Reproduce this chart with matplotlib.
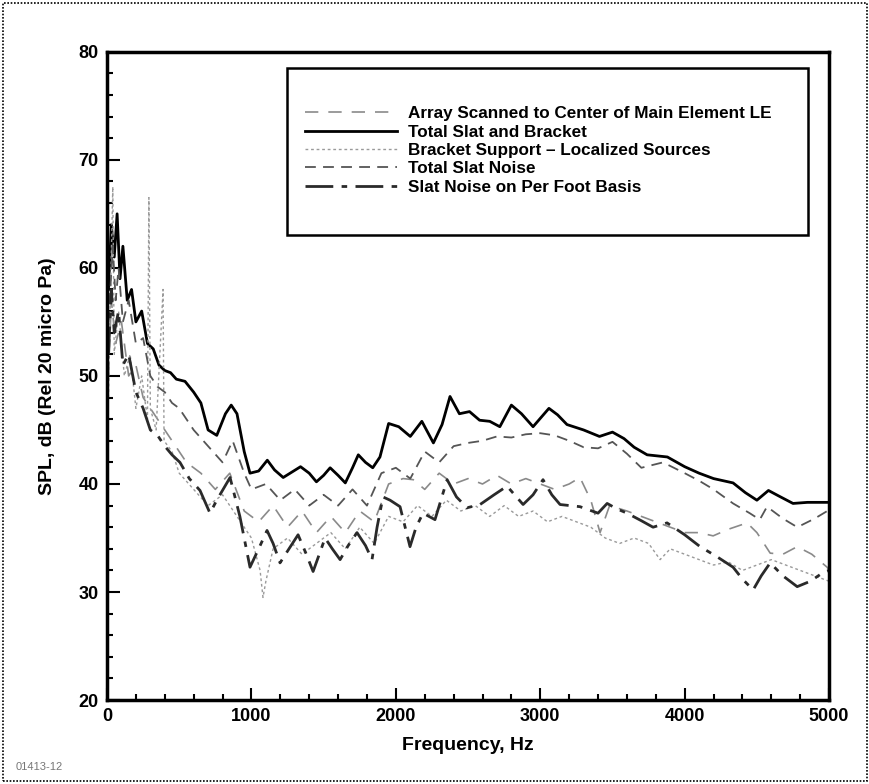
import numpy as np
import matplotlib
matplotlib.use('Agg')
import matplotlib.pyplot as plt
from matplotlib.patches import Rectangle

plt.rcParams['font.family'] = ['Liberation Sans', 'DejaVu Sans']

#### Data (Hz, dB)

# Total Slat and Bracket (solid, top curve)
f_total = [10, 30, 50, 70, 90, 110, 140, 170, 200, 240, 280, 320, 360, 400, 440, 480, 540, 600, 650,
           700, 760, 820, 860, 900, 950, 990, 1050, 1110, 1160, 1220, 1280, 1340, 1400, 1450, 1500,
           1545, 1600, 1650, 1700, 1740, 1790, 1840, 1890, 1950, 2020, 2100, 2180, 2260, 2320, 2375,
           2440, 2510, 2580, 2650, 2720, 2800, 2870, 2950, 3060, 3120, 3185, 3300, 3410, 3500, 3580,
           3650, 3740, 3880, 4000, 4100, 4200, 4335, 4420, 4500, 4580, 4650, 4750, 4850, 4950, 5000]
spl_total = [58, 64, 61, 65, 59, 62, 57, 58, 55, 56, 53, 52.5, 51, 50.5, 50.3, 49.7, 49.5, 48.5, 47.5,
             45.0, 44.5, 46.5, 47.3, 46.5, 43.0, 41.0, 41.2, 42.2, 41.3, 40.6, 41.1, 41.6, 41.0, 40.2, 40.8,
             41.5, 40.8, 40.1, 41.5, 42.7, 42.0, 41.5, 42.5, 45.6, 45.3, 44.4, 45.8, 43.8, 45.5, 48.1,
             46.5, 46.7, 45.9, 45.8, 45.3, 47.3, 46.5, 45.3, 47.0, 46.4, 45.5, 45.0, 44.4, 44.8, 44.2,
             43.4, 42.7, 42.5, 41.6, 41.0, 40.5, 40.1, 39.2, 38.5, 39.4, 38.9, 38.2, 38.3, 38.3, 38.3]

# Total Slat Noise (dashed, second from top)
f_slat = [10, 40, 60, 80, 110, 150, 200, 250, 300, 350, 400, 450, 500, 600, 700, 800, 870, 950, 1000,
          1100, 1200, 1300, 1400, 1500, 1600, 1700, 1800, 1900, 2000, 2100, 2200, 2300, 2400, 2500,
          2600, 2700, 2800, 2900, 3000, 3100, 3200, 3300, 3400, 3500, 3600, 3700, 3850, 4000, 4100,
          4200, 4335, 4450, 4520, 4570, 4680, 4780, 4900, 5000]
spl_slat = [55, 62, 57, 60, 55, 57, 53, 53.5, 50, 49, 48.5, 47.5, 47, 45, 43.5, 42, 44, 41, 39.5,
            40, 38.5, 39.5, 38, 39, 38, 39.5, 38, 41, 41.5, 40.5, 43, 42, 43.5, 43.8,
            44, 44.4, 44.3, 44.6, 44.7, 44.5, 44.0, 43.4, 43.3, 43.9, 42.8, 41.5, 42, 41, 40.3,
            39.5, 38.2, 37.3, 36.7, 37.9, 36.8, 36.0, 36.8, 37.6]

# Array Scanned to Center of Main Element LE (light long dash)
f_array = [10, 30, 60, 100, 150, 200, 250, 300, 350, 400, 450, 550, 650, 750, 850, 950, 1050, 1150,
           1250, 1350, 1450, 1550, 1650, 1750, 1850, 1950, 2050, 2120, 2200, 2300, 2400, 2500, 2600,
           2700, 2800, 2900, 3000, 3100, 3200, 3275, 3350, 3414, 3480, 3600, 3700, 3800, 3900, 4000,
           4100, 4197, 4300, 4432, 4500, 4592, 4680, 4779, 4880, 4986, 5000]
spl_array = [50, 57, 53, 55, 50, 51, 48, 47, 46, 45, 44, 42, 41, 39.5, 41, 37.5, 36.5, 38,
             36, 37.5, 35.5, 37, 35.5, 37.5, 36.5, 40, 40.5, 40.4, 39.5, 41, 40, 40.5, 40,
             40.8, 40, 40.5, 40, 39.5, 40, 40.6, 38.5, 35.5, 38, 37.5, 37, 36.5, 36, 35.5,
             35.5, 35.2, 35.8, 36.4, 35.5, 33.6, 33.5, 34.2, 33.5, 32.3, 32]

# Bracket Support - Localized Sources (light dotted, spiky)
f_bracket = [10, 20, 40, 50, 80, 120, 160, 200, 240, 280, 290, 300, 340, 388, 395, 450, 500, 600, 700,
             800, 900, 1000, 1060, 1080, 1100, 1150, 1250, 1350, 1450, 1550, 1650, 1750, 1850, 1950,
             2050, 2150, 2250, 2350, 2450, 2550, 2650, 2750, 2850, 2950, 3050, 3150, 3250, 3350, 3450,
             3550, 3650, 3750, 3830, 3900, 4000, 4100, 4200, 4300, 4400, 4500, 4600, 4700, 4800, 4900, 5000]
spl_bracket = [48, 55, 67.5, 52, 56, 50, 52, 47, 50, 46, 66.5, 47, 45, 58, 44, 43, 41, 39.5, 38,
               39, 37, 35, 32, 29.5, 31, 34, 35, 33.5, 34.5, 35.5, 34, 36, 34.5, 37,
               36.5, 38, 37, 38.5, 37.5, 38, 37, 38, 37, 37.5, 36.5, 37, 36.5, 36, 35,
               34.5, 35, 34.5, 33, 34, 33.5, 33, 32.5, 32.8, 32, 32.5, 33, 32.5, 32, 31.5, 31]

# Slat Noise on Per Foot Basis (dark, lowest in 1000-2000 Hz)
f_foot = [10, 30, 50, 80, 110, 150, 200, 250, 300, 350, 400, 450, 505, 570, 644, 713, 760, 852, 920,
          990, 1050, 1108, 1150, 1198, 1260, 1323, 1380, 1427, 1470, 1510, 1560, 1614, 1670, 1731,
          1790, 1835, 1870, 1911, 1960, 2029, 2098, 2140, 2188, 2271, 2355, 2420, 2493, 2583, 2680,
          2770, 2881, 2950, 3019, 3080, 3137, 3275, 3400, 3463, 3530, 3601, 3700, 3781, 3878, 4000,
          4107, 4220, 4335, 4400, 4474, 4530, 4592, 4680, 4779, 4870, 4958, 5000]
spl_foot = [52, 58, 54, 56, 51, 52, 48.5, 47, 45, 44.5, 43.5, 42.7, 42, 40.5, 39.4, 37.3, 38.5, 40.6, 37,
            32.3, 34, 35.7, 34.5, 32.7, 34, 35.3, 33.5, 31.9, 33.5, 35.0, 34, 33.0, 34.3, 35.5,
            34.3, 33.0, 36, 38.8, 38.5, 37.9, 34.2, 36, 37.3, 36.7, 40.4, 38.8, 37.8, 38.1, 39,
            39.8, 38.1, 39, 40.4, 39, 38.1, 37.9, 37.3, 38.2, 37.7, 37.3, 36.6, 36.0, 36.4, 35.3,
            34.2, 33.3, 32.3, 31.2, 30.2, 31.5, 32.7, 31.5, 30.5, 31, 31.8, 32]

labels = ['Array Scanned to Center of Main Element LE', 'Total Slat and Bracket',
          'Bracket Support \u2013 Localized Sources', 'Total Slat Noise', 'Slat Noise on Per Foot Basis']

#### Plot
fig = plt.figure(figsize=(8.7, 7.84), dpi=100)
ax = fig.add_axes([0.123, 0.107, 0.830, 0.827])

ax.plot(f_array, spl_array, color='#8a8a8a', linewidth=1.2, linestyle=(0, (8, 6)), label=labels[0])
ax.plot(f_total, spl_total, color='black', linewidth=2.0, linestyle='-', label=labels[1])
ax.plot(f_bracket, spl_bracket, color='#9a9a9a', linewidth=1.0, linestyle=(0, (2, 2)), label=labels[2])
ax.plot(f_slat, spl_slat, color='#555555', linewidth=1.3, linestyle=(0, (6, 4)), label=labels[3])
ax.plot(f_foot, spl_foot, color='#2a2a2a', linewidth=2.0, linestyle=(0, (10, 3, 2, 3)), label=labels[4])

ax.set_xlim(0, 5000)
ax.set_ylim(20, 80)
ax.set_xticks(np.arange(0, 5001, 1000))
ax.set_xticks(np.arange(0, 5001, 200), minor=True)
ax.set_yticks(np.arange(20, 81, 10))
ax.set_yticks(np.arange(20, 81, 2), minor=True)
ax.tick_params(which='both', direction='in', top=False, right=False, width=1.5)
ax.tick_params(which='major', length=9, labelsize=13, pad=6)
ax.tick_params(which='minor', length=4)
for t in ax.get_xticklabels() + ax.get_yticklabels():
	t.set_fontweight('bold')
for s in ax.spines.values():
	s.set_linewidth(2.5)

ax.set_xlabel('Frequency, Hz', fontsize=14, fontweight='bold', labelpad=8)
ax.set_ylabel('SPL, dB (Rel 20 micro Pa)', fontsize=14, fontweight='bold', labelpad=16)

# legend without its own frame, box drawn separately to match the original spacing
leg = ax.legend(loc='upper left', bbox_to_anchor=(0.274, 0.916), handlelength=5.4,
                handletextpad=0.65, borderpad=0, borderaxespad=0, labelspacing=0.2, frameon=False,
                prop={'weight': 'bold', 'size': 12.3})
ax.add_patch(Rectangle((0.249, 0.718), 0.722, 0.257, transform=ax.transAxes, fill=False,
                       edgecolor='black', linewidth=1.8, zorder=5))

# figure border and figure number
fig.patches.append(Rectangle((0.004, 0.004), 0.992, 0.992, transform=fig.transFigure,
                             fill=False, edgecolor='black', linewidth=1.2, linestyle=(0, (1, 1))))
fig.text(0.018, 0.018, '01413-12', fontsize=8, color='#777777')

fig.savefig('out.png', dpi=100)
